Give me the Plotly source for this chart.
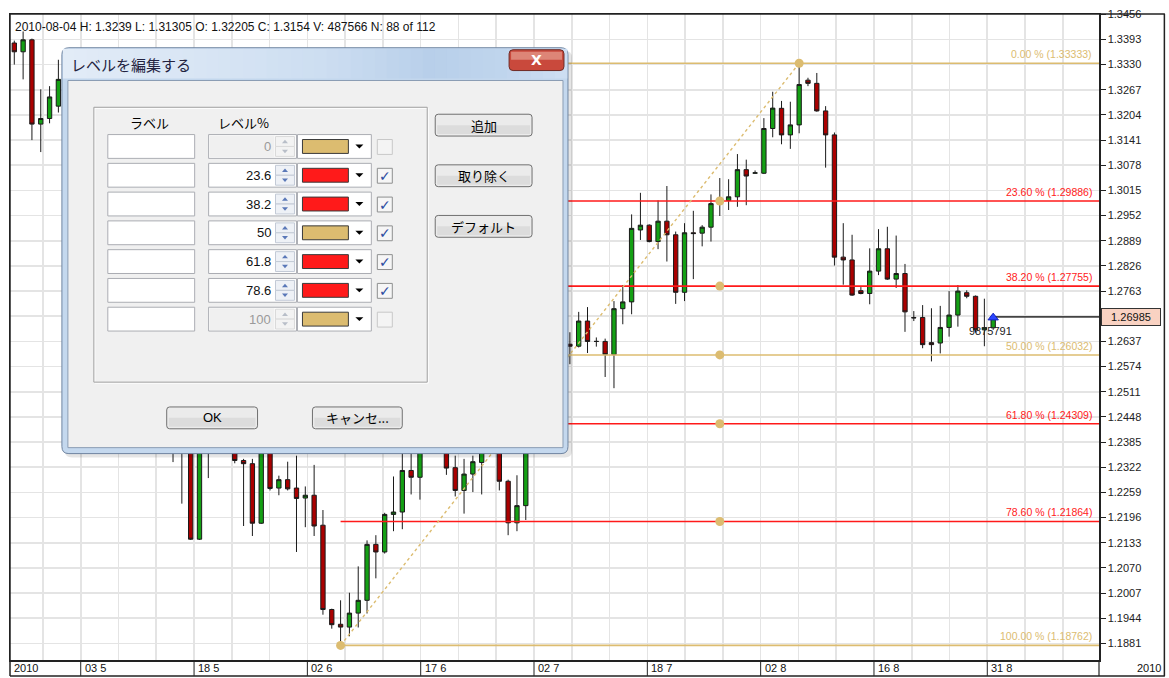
import plotly.graph_objects as go

# ------------------------------------------------------------------ data
opens = [1.3384, 1.3362, 1.3392, 1.3181, 1.3195, 1.3226, 1.3293, 1.3285, 1.3205, 1.3005,
         1.2845, 1.2615, 1.2830, 1.2920, 1.2790, 1.2705, 1.2640, 1.2580, 1.2370, 1.2362,
         1.2375, 1.2142, 1.2420, 1.2565, 1.2530, 1.2560, 1.2339, 1.2331, 1.2182, 1.2370,
         1.2270, 1.2291, 1.2270, 1.2245, 1.2252, 1.2177, 1.1966, 1.1929, 1.1922, 1.1957,
         1.1989, 1.2129, 1.2110, 1.2204, 1.2210, 1.2314, 1.2297, 1.2385, 1.2430, 1.2460,
         1.2321, 1.2264, 1.2305, 1.2334, 1.2370, 1.2375, 1.2287, 1.2183, 1.2226, 1.2515,
         1.2560, 1.2555, 1.2535, 1.2630, 1.2625, 1.2688, 1.2637, 1.2637, 1.2604, 1.2719,
         1.2736, 1.2916, 1.2928, 1.2887, 1.2938, 1.2904, 1.2760, 1.2909, 1.2908, 1.2923,
         1.2982, 1.2990, 1.2999, 1.3067, 1.3058, 1.3058, 1.3170, 1.32205, 1.3154, 1.3179,
         1.3291, 1.3283, 1.3214, 1.3154, 1.2848, 1.2841, 1.2764, 1.2757, 1.2813, 1.2869,
         1.2793, 1.2807, 1.2697, 1.2697, 1.2634, 1.2633, 1.2672, 1.2703, 1.2759, 1.2750,
         1.2666, 1.2671]
highs = [1.3390, 1.3413, 1.3395, 1.3268, 1.3276, 1.3342, 1.3300, 1.3318, 1.3215, 1.3020,
         1.2870, 1.2775, 1.2935, 1.3094, 1.2810, 1.2760, 1.2660, 1.2610, 1.2395, 1.2435,
         1.2420, 1.2450, 1.2590, 1.2675, 1.2560, 1.2580, 1.2343, 1.2343, 1.2380, 1.2400,
         1.2301, 1.2336, 1.2351, 1.2274, 1.2328, 1.2215, 1.1968, 1.1989, 1.2008, 1.2074,
         1.2139, 1.2152, 1.2208, 1.2299, 1.2360, 1.2370, 1.2395, 1.2420, 1.2470, 1.2485,
         1.2351, 1.2343, 1.2351, 1.2390, 1.2385, 1.2390, 1.2291, 1.2302, 1.2530, 1.2590,
         1.2575, 1.2580, 1.2670, 1.2660, 1.2711, 1.2723, 1.2647, 1.2644, 1.2738, 1.2778,
         1.2955, 1.3009, 1.2930, 1.2990, 1.3026, 1.2912, 1.2933, 1.2964, 1.2928, 1.3005,
         1.3046, 1.3043, 1.3106, 1.3092, 1.3065, 1.3196, 1.3262, 1.3239, 1.3237, 1.33333,
         1.3297, 1.3309, 1.3226, 1.3160, 1.2933, 1.2904, 1.2773, 1.2870, 1.2918, 1.2924,
         1.2902, 1.2831, 1.2713, 1.2728, 1.2720, 1.2726, 1.2763, 1.2778, 1.2765, 1.2752,
         1.2744, 1.2705]
lows = [1.3330, 1.3293, 1.3141, 1.3111, 1.3183, 1.3210, 1.3270, 1.3182, 1.2995, 1.2816,
        1.2520, 1.2605, 1.2820, 1.2760, 1.2625, 1.2600, 1.2515, 1.2360, 1.2335, 1.2231,
        1.2140, 1.2140, 1.2295, 1.2460, 1.2500, 1.2332, 1.2175, 1.2150, 1.2180, 1.2264,
        1.2252, 1.2264, 1.2110, 1.2172, 1.2150, 1.1953, 1.1918, 1.18762, 1.1899, 1.1921,
        1.1956, 1.2044, 1.2106, 1.2162, 1.2167, 1.2254, 1.2241, 1.2365, 1.2420, 1.2303,
        1.2249, 1.2206, 1.2260, 1.2254, 1.2360, 1.2264, 1.2152, 1.2162, 1.2190, 1.2470,
        1.2545, 1.2500, 1.2515, 1.2580, 1.2622, 1.2608, 1.2624, 1.2548, 1.2520, 1.2680,
        1.2705, 1.2891, 1.2885, 1.2868, 1.2837, 1.2731, 1.2738, 1.2793, 1.2875, 1.2887,
        1.2951, 1.2966, 1.2974, 1.2978, 1.3057, 1.3056, 1.3148, 1.31305, 1.3119, 1.3158,
        1.3276, 1.3212, 1.3072, 1.2827, 1.2779, 1.2751, 1.2755, 1.2730, 1.2803, 1.2791,
        1.2771, 1.2661, 1.2688, 1.2620, 1.2587, 1.2607, 1.2649, 1.2674, 1.2745, 1.2659,
        1.2625, 1.2666]
closes = [1.3362, 1.3392, 1.3181, 1.3195, 1.3249, 1.3293, 1.3285, 1.3205, 1.3005, 1.2845,
          1.2615, 1.2755, 1.2920, 1.2790, 1.2705, 1.2640, 1.2580, 1.2390, 1.2360, 1.2380,
          1.2142, 1.2420, 1.2565, 1.2570, 1.2520, 1.2339, 1.2331, 1.2182, 1.2370, 1.2269,
          1.2291, 1.2268, 1.2244, 1.2252, 1.2175, 1.1966, 1.1928, 1.1922, 1.1957, 1.1989,
          1.2129, 1.2110, 1.2204, 1.2210, 1.2314, 1.2297, 1.2385, 1.2395, 1.2460, 1.2320,
          1.2264, 1.2305, 1.2336, 1.2375, 1.2375, 1.2287, 1.2183, 1.2226, 1.2515, 1.2565,
          1.2555, 1.2535, 1.2630, 1.2625, 1.2688, 1.2637, 1.2637, 1.2604, 1.2719, 1.2736,
          1.2920, 1.2928, 1.2887, 1.2938, 1.2904, 1.2760, 1.2909, 1.2907, 1.2923, 1.2982,
          1.2990, 1.2999, 1.3067, 1.3051, 1.3059, 1.3170, 1.3221, 1.3154, 1.3179, 1.3280,
          1.3283, 1.3214, 1.3154, 1.2848, 1.2841, 1.2753, 1.2757, 1.2813, 1.2869, 1.2793,
          1.2807, 1.2711, 1.2696, 1.2629, 1.2629, 1.2672, 1.2703, 1.2763, 1.2750, 1.2666,
          1.2671, 1.26985]
bar_index = list(range(len(opens)))

fib_pct = ["0.00", "23.60", "38.20", "50.00", "61.80", "78.60", "100.00"]
fib_price = [1.33333, 1.29886, 1.27755, 1.26032, 1.24309, 1.21864, 1.18762]
fib_is_red = [False, True, True, False, True, True, False]
swing_low_bar, swing_high_bar = 37, 89
handle_bar = 80
last_bar, last_price = 111, 1.26985
last_note = "9875791"
header_text = "2010-08-04 H: 1.3239 L: 1.31305 O: 1.32205 C: 1.3154 V: 487566 N: 88 of 112"

xtick_labels = ["03 5", "18 5", "02 6", "17 6", "02 7", "18 7", "02 8", "16 8", "31 8"]
ytick_labels = ["1.1881", "1.1944", "1.2007", "1.2070", "1.2133", "1.2196", "1.2259",
                "1.2322", "1.2385", "1.2448", "1.2511", "1.2574", "1.2637", "1.2700",
                "1.2763", "1.2826", "1.2889", "1.2952", "1.3015", "1.3078", "1.3141",
                "1.3204", "1.3267", "1.3330", "1.3393", "1.3456"]

dlg_levels = ["0", "23.6", "38.2", "50", "61.8", "78.6", "100"]
dlg_red = [False, True, True, False, True, True, False]
dlg_enabled = [False, True, True, True, True, True, False]

# ------------------------------------------------------------------ style
TAN = "#dcbc70"
RED = "#ff1a1a"
GRID = "#e4e4e4"
FRAME = "#222222"
UI = "Liberation Sans, Arial, sans-serif"
JP = "Noto Sans CJK JP, sans-serif"

W, H = 1169, 678
PL, PR, PT, PB = 8, 1099, 9, 660
PW, PH = PR - PL, PB - PT
XR = [-0.487, 123.0]
YR = [1.18396, 1.34566]


def X(px):
    return (px - PL) / PW


def Y(py):
    return (PB - py) / PH


def rect(x0, y0, x1, y1, fill=None, line=None, lw=1):
    return dict(type="rect", xref="paper", yref="paper", layer="above",
                x0=X(x0), x1=X(x1), y0=Y(y1), y1=Y(y0),
                fillcolor=fill or "rgba(0,0,0,0)",
                line=dict(color=line or "rgba(0,0,0,0)", width=lw if line else 0))


def rrect(x0, y0, x1, y1, r, fill, line, lw=1):
    p = (f"M {X(x0 + r)},{Y(y0)} L {X(x1 - r)},{Y(y0)} Q {X(x1)},{Y(y0)} {X(x1)},{Y(y0 + r)} "
         f"L {X(x1)},{Y(y1 - r)} Q {X(x1)},{Y(y1)} {X(x1 - r)},{Y(y1)} "
         f"L {X(x0 + r)},{Y(y1)} Q {X(x0)},{Y(y1)} {X(x0)},{Y(y1 - r)} "
         f"L {X(x0)},{Y(y0 + r)} Q {X(x0)},{Y(y0)} {X(x0 + r)},{Y(y0)} Z")
    return dict(type="path", xref="paper", yref="paper", layer="above", path=p,
                fillcolor=fill, line=dict(color=line, width=lw))


def tri(cx, cy, w, h, up, color):
    if up:
        p = f"M {X(cx - w / 2)},{Y(cy + h / 2)} L {X(cx + w / 2)},{Y(cy + h / 2)} L {X(cx)},{Y(cy - h / 2)} Z"
    else:
        p = f"M {X(cx - w / 2)},{Y(cy - h / 2)} L {X(cx + w / 2)},{Y(cy - h / 2)} L {X(cx)},{Y(cy + h / 2)} Z"
    return dict(type="path", xref="paper", yref="paper", layer="above", path=p,
                fillcolor=color, line=dict(color=color, width=0))


def hline(x0, x1, y, color, lw=1):
    return dict(type="line", xref="paper", yref="paper", layer="above",
                x0=X(x0), x1=X(x1), y0=Y(y), y1=Y(y), line=dict(color=color, width=lw))


def vline(x, y0, y1, color, lw=1):
    return dict(type="line", xref="paper", yref="paper", layer="above",
                x0=X(x), x1=X(x), y0=Y(y0), y1=Y(y1), line=dict(color=color, width=lw))


def txt(x, y, s, size=13, color="#000", anchor="left", font=JP):
    return dict(xref="paper", yref="paper", x=X(x), y=Y(y), text=s, showarrow=False,
                xanchor=anchor, yanchor="middle", font=dict(size=size, color=color, family=font))


def lerp(c1, c2, t):
    return "rgb(%d,%d,%d)" % tuple(round(a + (b - a) * t) for a, b in zip(c1, c2))


# ------------------------------------------------------------------ traces
fig = go.Figure()
fig.add_trace(go.Candlestick(
    x=bar_index, open=opens, high=highs, low=lows, close=closes,
    increasing=dict(fillcolor="#14a014", line=dict(color="#1a1a1a", width=1)),
    decreasing=dict(fillcolor="#aa0000", line=dict(color="#1a1a1a", width=1)),
    whiskerwidth=0, hoverinfo="skip", showlegend=False))

for pct, price, red in zip(fib_pct, fib_price, fib_is_red):
    fig.add_trace(go.Scatter(x=[swing_low_bar, XR[1]], y=[price, price], mode="lines",
                             line=dict(color=RED if red else TAN, width=1.6),
                             hoverinfo="skip", showlegend=False))

fig.add_trace(go.Scatter(x=[swing_low_bar, swing_high_bar], y=[fib_price[-1], fib_price[0]],
                         mode="lines", line=dict(color=TAN, width=1.4, dash="dot"),
                         hoverinfo="skip", showlegend=False))
fig.add_trace(go.Scatter(x=[swing_low_bar, swing_high_bar] + [handle_bar] * 5,
                         y=[fib_price[-1], fib_price[0]] + fib_price[1:6],
                         mode="markers", marker=dict(color=TAN, size=9),
                         hoverinfo="skip", showlegend=False))
fig.add_trace(go.Scatter(x=[last_bar, XR[1]], y=[last_price, last_price], mode="lines",
                         line=dict(color="#444444", width=1.6), hoverinfo="skip", showlegend=False))
fig.add_trace(go.Scatter(x=[last_bar], y=[last_price - 0.0002], mode="markers",
                         marker=dict(symbol="triangle-up", size=9, color="#2a46ff",
                                     line=dict(color="#1020c0", width=1)),
                         hoverinfo="skip", showlegend=False))

# ------------------------------------------------------------------ axes
grid_x = [3.25 + 4.2833 * k for k in range(28)]
sep_x = [7.533 + 12.85 * m for m in range(len(xtick_labels))]
ytick_vals = [float(v) for v in ytick_labels]
# the 1.2700 label sits under the last-price box in the reference
ytick_text = ["" if abs(v - last_price) < 0.003 else s for v, s in zip(ytick_vals, ytick_labels)]

fig.update_layout(
    width=W, height=H, margin=dict(l=PL, r=W - PR, t=PT, b=H - PB),
    paper_bgcolor="white", plot_bgcolor="white", showlegend=False, hovermode=False,
    xaxis=dict(range=XR, tickvals=grid_x, showticklabels=False, ticks="",
               showgrid=True, gridcolor=GRID, gridwidth=1.6, zeroline=False,
               showline=True, linecolor=FRAME, linewidth=1.5, mirror=True,
               rangeslider=dict(visible=False), fixedrange=True),
    yaxis=dict(range=YR, side="right", tickvals=ytick_vals, ticktext=ytick_text,
               ticks="outside", ticklen=5, tickcolor=FRAME, tickwidth=1,
               tickfont=dict(family=UI, size=11, color="#222"),
               showgrid=True, gridcolor=GRID, gridwidth=1.6, zeroline=False,
               showline=True, linecolor=FRAME, linewidth=1.5, mirror=True, fixedrange=True),
)

shapes = []
ann = []

# outer frame / x band
shapes.append(hline(PL, 1165, PT, FRAME, 1.5))
shapes.append(hline(PL, 1165, 676, FRAME, 1.5))
shapes.append(vline(PL, PT, 676, FRAME, 1.5))
shapes.append(vline(PR, PB, 676, FRAME, 1.2))
shapes.append(vline(1164.5, PT, 676, FRAME, 1.5))
for pos, lab in zip(sep_x, xtick_labels):
    shapes.append(dict(type="line", xref="x", yref="paper", x0=pos, x1=pos,
                       y0=Y(676), y1=Y(PB), line=dict(color=FRAME, width=1)))
    ann.append(dict(xref="x", yref="paper", x=pos, y=Y(668), xshift=2, text=lab,
                    showarrow=False, xanchor="left", yanchor="middle",
                    font=dict(family=UI, size=11, color="#111")))
ann.append(txt(10, 668, "2010", 11, "#111", "left", UI))
ann.append(txt(1163, 668, "2010", 11, "#111", "right", UI))

# header
ann.append(txt(11, 22, header_text, 12, "#111", "left", UI))

# fib labels
for pct, price, red in zip(fib_pct, fib_price, fib_is_red):
    ann.append(dict(xref="paper", yref="y", x=X(1094), y=price, yshift=1,
                    text=f"{pct} % ({price:.5f})", showarrow=False,
                    xanchor="right", yanchor="bottom",
                    font=dict(family=UI, size=10.5, color=RED if red else TAN)))

# last price box and note
ann.append(dict(xref="paper", yref="y", x=X(1101), y=last_price, text=f"{last_price:.5f}",
                showarrow=False, xanchor="left", yanchor="middle",
                font=dict(family=UI, size=11, color="#111"),
                bgcolor="#f9d2c2", bordercolor="#333", borderwidth=1, borderpad=2, width=54))
ann.append(dict(xref="x", yref="y", x=last_bar - 0.3, y=1.2664, text=last_note, showarrow=False,
                xanchor="center", yanchor="middle", font=dict(family=UI, size=11, color="#222")))

# ------------------------------------------------------------------ dialog overlay
shapes.append(rrect(63, 46, 571, 456, 7, "rgba(0,0,0,0.10)", "rgba(0,0,0,0)", 0))
shapes.append(rrect(60, 43, 567, 452, 7, "#c4d8ee", "#6f84a0", 1))
stops = [(61, (226, 236, 247)), (200, (216, 229, 244)), (320, (205, 222, 241)),
         (430, (184, 207, 234)), (505, (192, 213, 237)), (566, (206, 223, 242))]
n = 42
for i in range(n):
    xa = 61 + (566 - 61) * i / n
    xb = 61 + (566 - 61) * (i + 1) / n
    xm = (xa + xb) / 2
    for (p0, c0), (p1, c1) in zip(stops[:-1], stops[1:]):
        if p0 <= xm <= p1:
            col = lerp(c0, c1, (xm - p0) / (p1 - p0))
            break
    shapes.append(rect(xa, 44, xb + 0.3, 74, col))
shapes.append(rect(66, 76, 562, 446, "#f0f0f0", "#8a9cb4", 1))

# close button
shapes.append(rrect(508, 45, 563, 66, 4, "#c9493c", "#6e2b25", 1))
shapes.append(rect(510, 47, 561, 55, "#dd8577"))
ann.append(txt(535.5, 55.5, "<b>X</b>", 14, "white", "center", "DejaVu Sans, sans-serif"))

# title
ann.append(txt(67, 60, "レベルを編集する", 15, "#23233f", "left", JP))

# group box
shapes.append(rect(93, 104, 427, 381, None, "#ffffff", 1))
shapes.append(rect(92, 103, 426, 380, None, "#a0a0a0", 1))
ann.append(txt(148, 118, "ラベル", 13, "#000", "center"))
ann.append(txt(242, 118, "レベル%", 13, "#000", "center"))

for r, (lvl, red, en) in enumerate(zip(dlg_levels, dlg_red, dlg_enabled)):
    yt = 130.5 + 29 * r
    yb = yt + 24
    yc = yt + 12
    shapes.append(rect(106, yt, 193, yb, "white", "#abadb3", 1))
    shapes.append(rect(207, yt, 295, yb, "white", "#abadb3", 1))
    if not en:
        shapes.append(rect(208, yt + 1, 273, yb - 1, "#f0f0f0"))
    shapes.append(rect(274, yt + 2, 293, yc, "#eef1f6" if en else "#f3f3f3", "#c3cad6" if en else "#dadada", 1))
    shapes.append(rect(274, yc, 293, yb - 2, "#eef1f6" if en else "#f3f3f3", "#c3cad6" if en else "#dadada", 1))
    arr_col = "#5a78b8" if en else "#b8bec8"
    shapes.append(tri(283.5, yt + 7, 6, 3.5, True, arr_col))
    shapes.append(tri(283.5, yc + 5, 6, 3.5, False, arr_col))
    ann.append(txt(271, yc, lvl, 13, "#111" if en else "#9a9a9a", "right", UI))
    shapes.append(rect(296, yt, 370, yb, "white", "#abadb3", 1))
    shapes.append(rect(301, yt + 5, 347, yb - 5, RED if red else TAN, "#3a3a3a", 1))
    shapes.append(tri(358, yc, 8, 4, False, "#000"))
    shapes.append(rect(376, yt + 5, 391, yt + 20, "#f6f6f6" if en else "#f4f4f4",
                       "#8e8f8f" if en else "#c8c8c8", 1))
    if en:
        ann.append(txt(383.5, yt + 12.5, "✓", 14, "#2d4ba0", "center", "DejaVu Sans, sans-serif"))

# buttons
for (x0, y0, x1, y1, label) in [(434, 110, 531, 132, "追加"), (434, 161, 531, 183, "取り除く"),
                                (434, 212, 531, 234, "デフォルト"), (165, 405, 256, 427, "OK"),
                                (311, 405, 401, 427, "キャンセ...")]:
    shapes.append(rrect(x0, y0, x1, y1, 3, "#ebebeb", "#707070", 1))
    shapes.append(rect(x0 + 2, (y0 + y1) / 2, x1 - 2, y1 - 2, "#dcdcdc"))
    ann.append(txt((x0 + x1) / 2, (y0 + y1) / 2, label, 13, "#000", "center",
                   UI if label == "OK" else JP))

fig.update_layout(shapes=shapes, annotations=ann)
fig.write_html("out.html", config={"displayModeBar": False, "staticPlot": True},
               post_script="document.body.style.margin='0px';document.body.style.overflow='hidden';")
